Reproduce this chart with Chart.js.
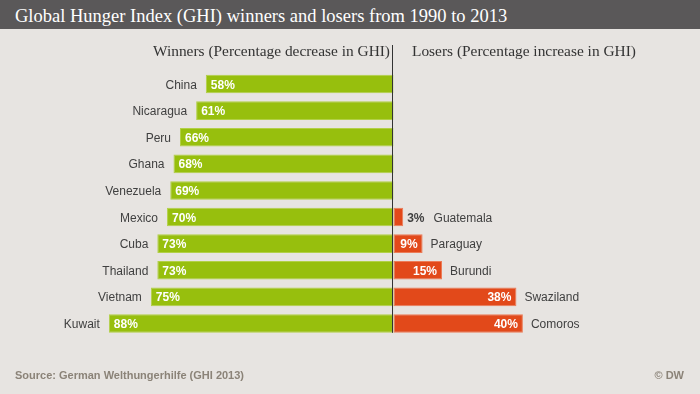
<!DOCTYPE html>
<html>

<head>
    <title>GHI winners and losers</title>
    <script src="https://cdn.jsdelivr.net/npm/chart.js@4"></script>
    <style>
        body { margin: 0; background: #e7e4e1; }
        #wrap { position: relative; width: 700px; height: 394px; overflow: hidden; }
        #bar { position: absolute; left: 0; top: 0; width: 700px; height: 29px; background: #5a5859; }
        .t { position: absolute; white-space: nowrap; line-height: 1; }
        #title { left: 15px; top: 5.5px; font: 18.5px "Liberation Serif", serif; color: #fff; }
        .head { top: 42px; font: 15.4px "Liberation Serif", serif; color: #333; }
        #hw { right: 310px; text-align: right; }
        #hl { left: 412px; }
        .foot { top: 368.7px; font: bold 11px "Liberation Sans", Arial, sans-serif; color: #8b8378; }
        #src { left: 15px; }
        #dw { right: 16px; }
        canvas { position: absolute; left: 0; top: 0; }
    </style>
</head>

<body>
    <div id="wrap">
        <canvas id="ctx" width="700" height="394"></canvas>
        <div id="bar"></div>
        <div class="t" id="title">Global Hunger Index (GHI) winners and losers from 1990 to 2013</div>
        <div class="t head" id="hw">Winners (Percentage decrease in GHI)</div>
        <div class="t head" id="hl">Losers (Percentage increase in GHI)</div>
        <div class="t foot" id="src">Source: German Welthungerhilfe (GHI 2013)</div>
        <div class="t foot" id="dw">© DW</div>
    </div>

    <script>
        // winners: percentage decrease of the GHI 1990-2013
        const winners = ['China', 'Nicaragua', 'Peru', 'Ghana', 'Venezuela', 'Mexico', 'Cuba', 'Thailand', 'Vietnam', 'Kuwait'];
        const winnerValues = [58, 61, 66, 68, 69, 70, 73, 73, 75, 88];

        // losers: percentage increase, shown on the bottom rows
        const losers = ['Guatemala', 'Paraguay', 'Burundi', 'Swaziland', 'Comoros'];
        const loserValues = [3, 9, 15, 38, 40];

        const offset = winners.length - losers.length;
        const loserRows = winners.map((w, i) => i < offset ? null : loserValues[i - offset]);
        const loserNames = winners.map((w, i) => i < offset ? null : losers[i - offset]);

        const labelFont = '12px "Liberation Sans", Arial, sans-serif';
        const valueFont = 'bold 12px "Liberation Sans", Arial, sans-serif';

        const labels = {
            id: 'labels',
            afterDatasetsDraw(chart) {
                const c = chart.ctx;
                c.save();
                c.textBaseline = 'alphabetic';

                // centre line
                const x0 = Math.round(chart.scales.x.getPixelForValue(0)) - 0.5;
                const last = chart.getDatasetMeta(0).data[winners.length - 1];
                c.strokeStyle = '#333';
                c.lineWidth = 1;
                c.beginPath();
                c.moveTo(x0, 45);
                c.lineTo(x0, last.y + last.height / 2);
                c.stroke();

                chart.getDatasetMeta(0).data.forEach((el, i) => {
                    const y = el.y + 4.5;
                    c.font = labelFont;
                    c.fillStyle = '#404040';
                    c.textAlign = 'right';
                    c.fillText(winners[i], el.x - 9, y);
                    c.font = valueFont;
                    c.fillStyle = '#fff';
                    c.textAlign = 'left';
                    c.fillText(winnerValues[i] + '%', el.x + 5, y);
                });

                chart.getDatasetMeta(1).data.forEach((el, i) => {
                    const v = loserRows[i];
                    if (v === null) return;
                    const y = el.y + 4.5;
                    const txt = v + '%';
                    c.font = valueFont;
                    const tw = c.measureText(txt).width;
                    let nameX;
                    if (el.x - el.base > tw + 9) {
                        c.fillStyle = '#fff';
                        c.textAlign = 'right';
                        c.fillText(txt, el.x - 5, y);
                        nameX = el.x + 8;
                    } else {
                        c.fillStyle = '#404040';
                        c.textAlign = 'left';
                        c.fillText(txt, el.x + 4, y);
                        nameX = el.x + 4 + tw + 9;
                    }
                    c.font = labelFont;
                    c.fillStyle = '#404040';
                    c.textAlign = 'left';
                    c.fillText(loserNames[i], nameX, y);
                });
                c.restore();
            }
        };

        new Chart(document.getElementById('ctx'), {
            type: 'bar',
            data: {
                labels: winners,
                datasets: [{
                    data: winnerValues.map(v => -v),
                    backgroundColor: '#97bf0d',
                    borderColor: '#b2d046',
                    borderWidth: 1,
                    borderSkipped: false
                }, {
                    data: loserRows,
                    backgroundColor: '#e2491a',
                    borderColor: '#ec7c58',
                    borderWidth: 1,
                    borderSkipped: false
                }]
            },
            options: {
                indexAxis: 'y',
                responsive: false,
                animation: false,
                devicePixelRatio: 1,
                categoryPercentage: 1,
                barPercentage: 0.7,
                layout: {
                    padding: { left: 108.8, right: 112.4, top: 70.7, bottom: 57.2 }
                },
                scales: {
                    x: { min: -88, max: 60, stacked: true, display: false },
                    y: { stacked: true, display: false }
                },
                plugins: {
                    legend: { display: false },
                    tooltip: { enabled: false }
                }
            },
            plugins: [labels]
        });
    </script>
</body>

</html>
